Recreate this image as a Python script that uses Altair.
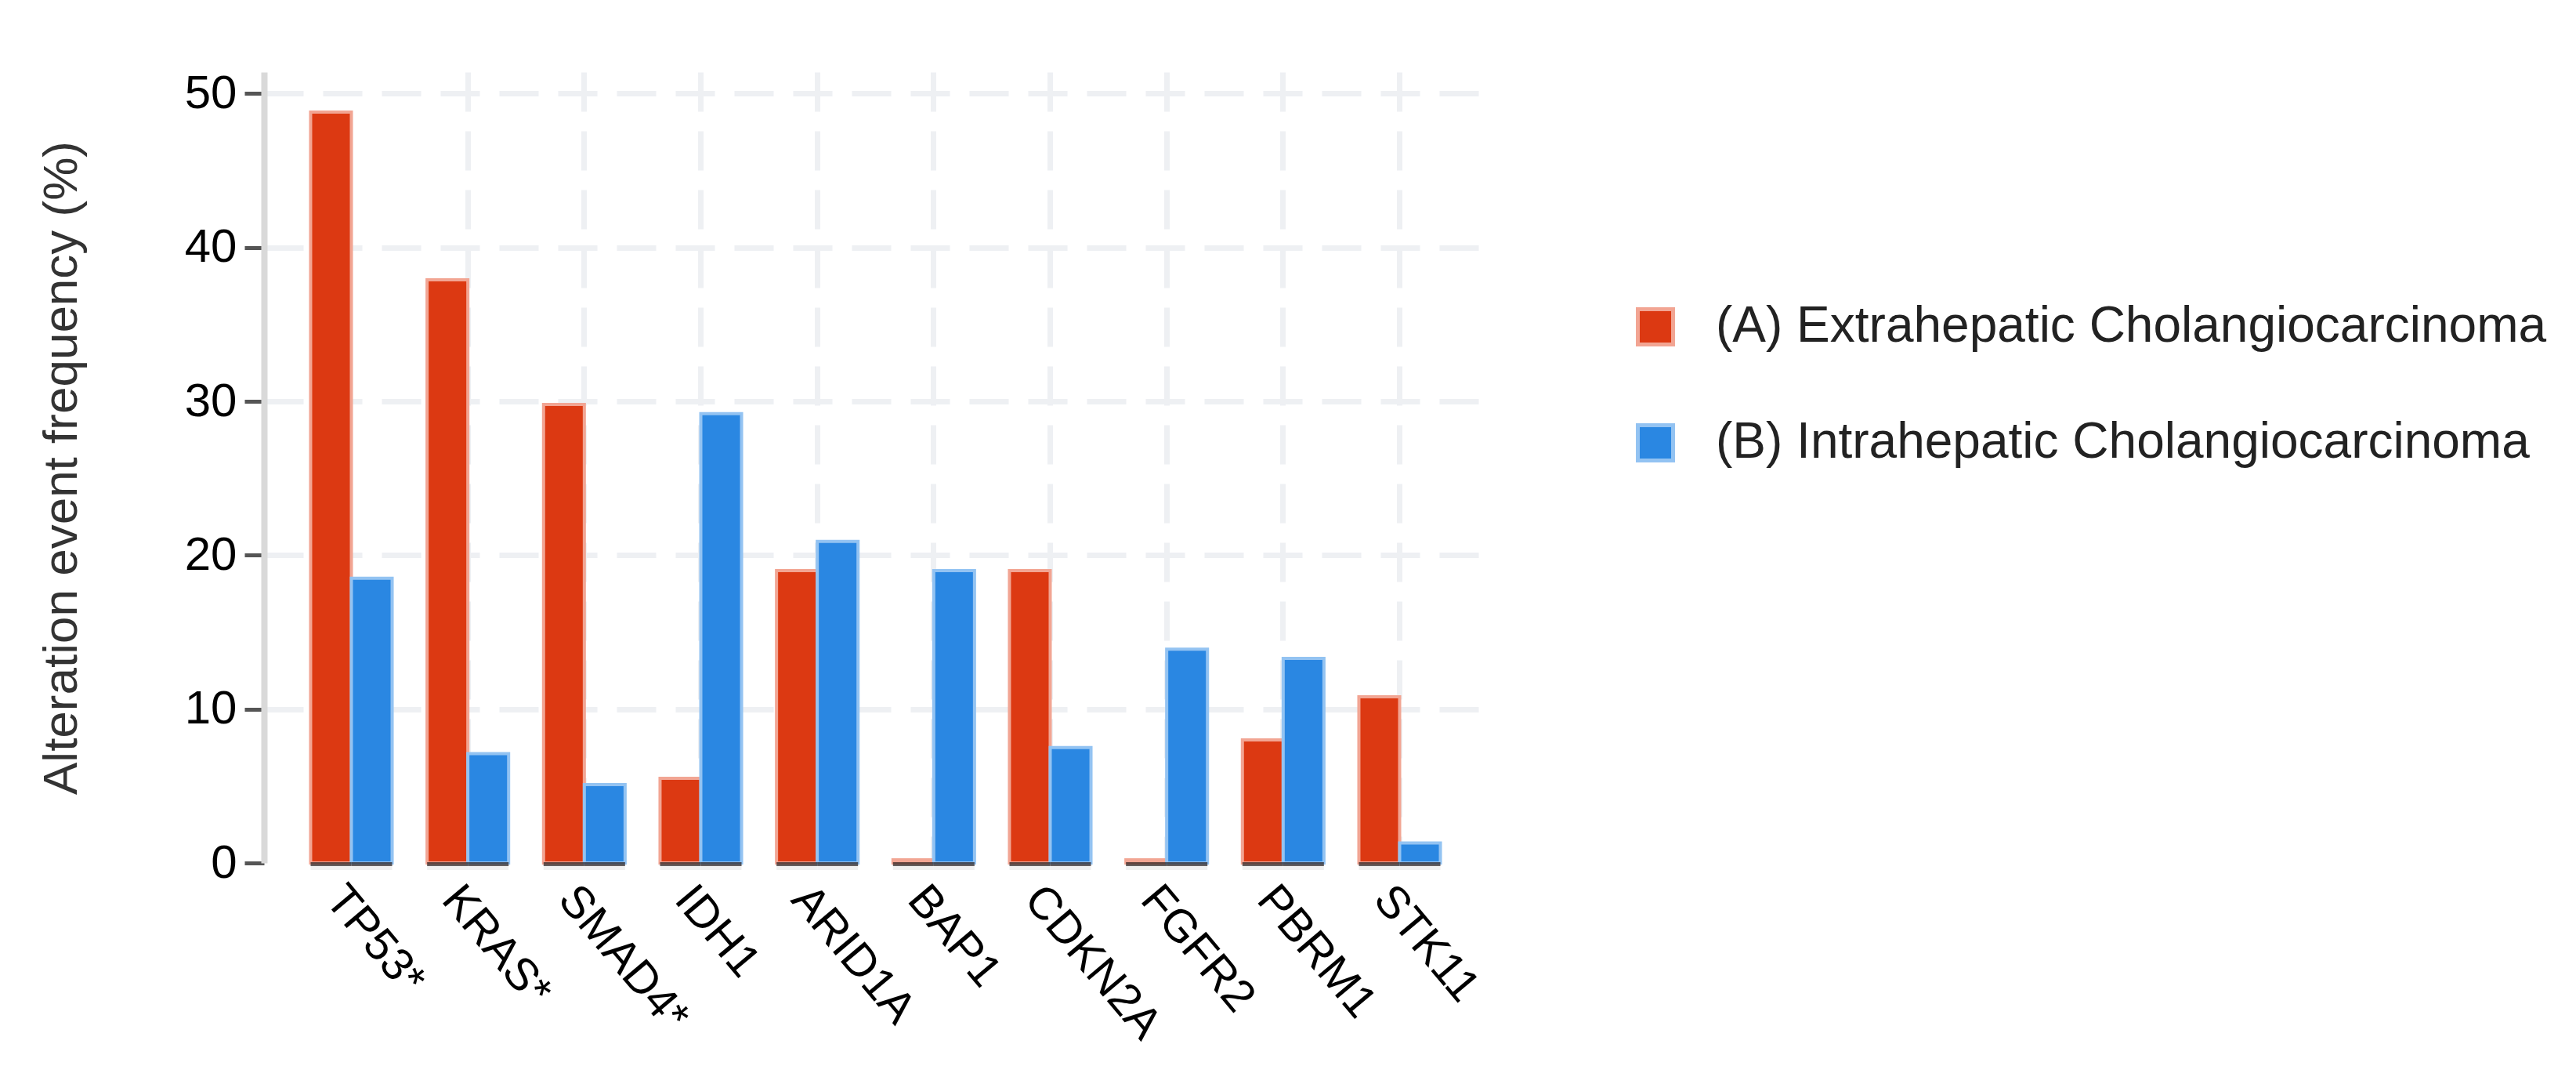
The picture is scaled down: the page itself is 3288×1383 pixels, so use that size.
import altair as alt
import pandas as pd

genes = ["TP53*", "KRAS*", "SMAD4*", "IDH1", "ARID1A", "BAP1", "CDKN2A", "FGFR2", "PBRM1", "STK11"]
extrahepatic = [48.8, 37.9, 29.8, 5.5, 19.0, 0.2, 19.0, 0.2, 8.0, 10.8]
intrahepatic = [18.5, 7.1, 5.1, 29.2, 20.9, 19.0, 7.5, 13.9, 13.3, 1.3]
series = ["(A) Extrahepatic Cholangiocarcinoma", "(B) Intrahepatic Cholangiocarcinoma"]
fill_colors = ["#dc3912", "#2a87e2"]
stroke_colors = ["#f2a593", "#93c3f2"]
y_ticks = [0, 10, 20, 30, 40, 50]

rows = []
for g, a, b in zip(genes, extrahepatic, intrahepatic):
    rows.append({"gene": g, "series": series[0], "value": a})
    rows.append({"gene": g, "series": series[1], "value": b})
df = pd.DataFrame(rows)

FONT = "Liberation Sans"
GRID = "#eef0f3"

x = alt.X(
    "gene:N", sort=genes, title=None,
    scale=alt.Scale(paddingInner=0.3, paddingOuter=0.4),
    axis=alt.Axis(
        labelAngle=50, labelAlign="left", labelBaseline="top", labelPadding=18,
        labelFontSize=58, labelColor="#000", labelFont=FONT, labelLimit=1000,
        domain=False, ticks=False, grid=True, bandPosition=0.5,
        gridColor=GRID, gridWidth=7, gridDash=[50, 25],
        gridOpacity={"condition": {"test": "datum.value === 'TP53*'", "value": 0}, "value": 1},
    ),
)
xoff = alt.XOffset("series:N", sort=series, scale=alt.Scale(paddingInner=0, paddingOuter=0))

y = alt.Y(
    "value:Q", title="Alteration event frequency (%)",
    scale=alt.Scale(domain=[0, 51.4], nice=False),
    axis=alt.Axis(
        values=y_ticks, labelFontSize=60, labelFont=FONT, labelColor="#000", labelPadding=10,
        tickSize=25, tickWidth=5, tickColor="#555555",
        domainColor="#d9d9d9", domainWidth=8,
        grid=True, gridColor=GRID, gridWidth=7, gridDash=[50, 25],
        gridOpacity={"condition": {"test": "datum.value === 0", "value": 0}, "value": 1},
        titleFontSize=62, titleFont=FONT, titleFontWeight="normal", titleColor="#333333",
        titlePadding=125,
    ),
)

legend = alt.Legend(
    title=None, orient="none", legendX=1744, legendY=293,
    symbolType="square", symbolSize=2025, symbolStrokeWidth=5, symbolOpacity=1,
    labelFontSize=64, labelFont=FONT, labelColor="#222222", labelOffset=45,
    rowPadding=82, labelLimit=2000,
)

bars = alt.Chart(df).mark_bar(strokeWidth=4).encode(
    x=x, xOffset=xoff, y=y,
    color=alt.Color("series:N", sort=series, scale=alt.Scale(domain=series, range=fill_colors), legend=legend),
    stroke=alt.Stroke("series:N", sort=series, scale=alt.Scale(domain=series, range=stroke_colors), legend=legend),
)

shadow = alt.Chart(df).mark_tick(orient="horizontal", thickness=5, size=52, color="#ebebeb", yOffset=6.5).encode(
    x=alt.X("gene:N", sort=genes), xOffset=xoff, y=alt.datum(0)
)
base = alt.Chart(df).mark_tick(orient="horizontal", thickness=5, size=52, color="#241b1b", yOffset=1.5).encode(
    x=alt.X("gene:N", sort=genes), xOffset=xoff, y=alt.datum(0)
)

chart = alt.layer(bars, shadow, base).properties(
    width=1561, height=1009,
    padding={"left": 39, "top": 81, "right": 10, "bottom": 10},
).configure_view(stroke=None)

chart.save("out.html", embed_options={"renderer": "svg", "actions": False})
